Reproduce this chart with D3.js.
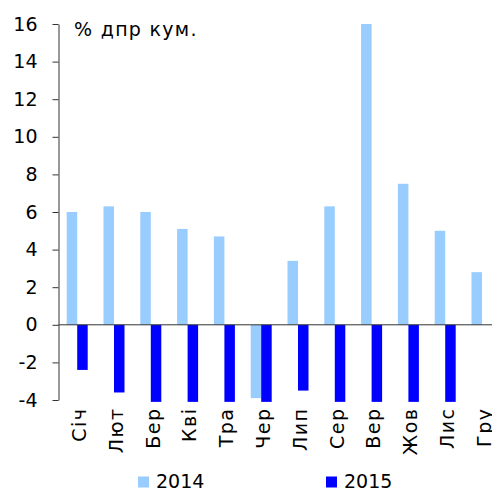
<!DOCTYPE html>
<html>
<head>
<meta charset="utf-8">
<script src="https://cdn.jsdelivr.net/npm/d3@7"></script>
<style>
  body { margin: 0; background: #fff; }
  text { font-family: Verdana, "DejaVu Sans", sans-serif; }
</style>
</head>
<body>
<div id="chart"></div>
<script>
//months (ukrainian short names)
const months = ['Січ','Лют','Бер','Кві','Тра','Чер','Лип','Сер','Вер','Жов','Лис','Гру']
const series = ['2014', '2015']
//% yoy cumulative
const values2014 = [6.0, 6.3, 6.0, 5.1, 4.7, -3.9, 3.4, 6.3, 16.0, 7.5, 5.0, 2.8]
const values2015 = [-2.4, -3.6, -4.1, -4.1, -4.1, -4.1, -3.5, -4.1, -4.1, -4.1, -4.1, null]
const yTicks = [-4, -2, 0, 2, 4, 6, 8, 10, 12, 14, 16]
const colors = {'2014': '#99ccff', '2015': '#0000ff'}

const width = 492, height = 491

const svg = d3.select("#chart")
  .append("svg")
    .attr("width", width)
    .attr("height", height)

//scales
const x = d3.scaleBand()
  .domain(months)
  .range([58.5, 58.5 + 12 * 36.8])
  .padding(0)

const x1 = d3.scaleBand()
  .domain(series)
  .range([8.2, 29.2])

const y = d3.scaleLinear()
  .domain([-4, 16])
  .range([400, 24])

//bars
const rows = months.map((m, i) => ({month: m, '2014': values2014[i], '2015': values2015[i]}))

svg.append("g")
  .selectAll("g")
  .data(rows)
  .join("g")
    .attr("transform", d => `translate(${x(d.month)},0)`)
  .selectAll("rect")
  .data(d => series.filter(s => d[s] != null).map(s => ({key: s, value: d[s]})))
  .join("rect")
    .attr("x", d => x1(d.key))
    .attr("width", x1.bandwidth())
    .attr("y", d => y(Math.max(0, d.value)))
    .attr("height", d => Math.abs(y(d.value) - y(0)))
    .style("fill", d => colors[d.key])

//y axis, plain hyphen for negatives
const yAxis = svg.append("g")
  .attr("transform", "translate(58.5,0)")
  .call(d3.axisLeft(y).tickValues(yTicks).tickSize(6).tickPadding(15).tickSizeOuter(0)
    .tickFormat(d => String(d)))
yAxis.attr("font-family", null)
yAxis.selectAll("text")
  .style("font-size", "19px")
  .style("fill", "#000")
yAxis.selectAll("line, path").style("stroke", "#333")

//zero line
svg.append("line")
  .attr("x1", 58.5)
  .attr("x2", width)
  .attr("y1", y(0))
  .attr("y2", y(0))
  .style("stroke", "#333")
  .style("stroke-width", 1)

//month labels, rotated
svg.append("g")
  .selectAll("text")
  .data(months)
  .join("text")
    .attr("transform", d => `translate(${x(d) + x.bandwidth() / 2},407.5) rotate(-90)`)
    .attr("y", 9)
    .attr("text-anchor", "end")
    .style("font-size", "19px")
    .style("letter-spacing", "1.5px")
    .text(d => d)

//units label
svg.append("text")
  .attr("x", 74)
  .attr("y", 36)
  .style("font-size", "19px")
  .style("letter-spacing", "1.3px")
  .text("% дпр кум.")

//legend
const legendX = {'2014': 138, '2015': 326}
const legend = svg.append("g")
  .selectAll("g")
  .data(series)
  .join("g")
    .attr("transform", d => `translate(${legendX[d]},476.5)`)
legend.append("rect")
  .attr("width", 11)
  .attr("height", 11)
  .style("fill", d => colors[d])
legend.append("text")
  .attr("x", 18)
  .attr("y", 11.5)
  .style("font-size", "19px")
  .text(d => d)
</script>
</body>
</html>
